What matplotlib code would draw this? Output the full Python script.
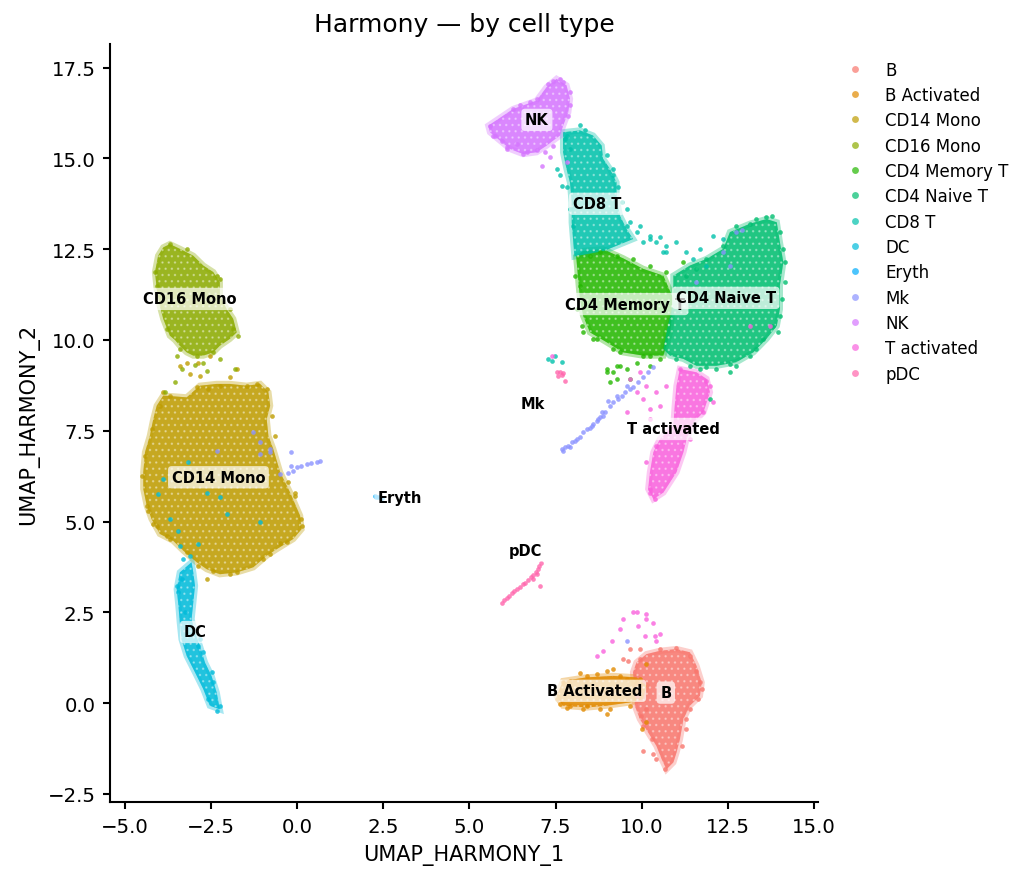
import matplotlib
matplotlib.use("Agg")
import matplotlib.pyplot as plt
from matplotlib.lines import Line2D

# ---------------- data ----------------
cell_types = ["B", "B Activated", "CD14 Mono", "CD16 Mono", "CD4 Memory T",
              "CD4 Naive T", "CD8 T", "DC", "Eryth", "Mk", "NK", "T activated", "pDC"]
palette = ["#F8766D", "#E18A00", "#BE9C00", "#8CAB00", "#24B700", "#00BE70",
           "#00C1AB", "#00BBDA", "#00ACFC", "#8B93FF", "#D575FE", "#F962DD", "#FF65AC"]

# outlines of the dense cores of each cluster
B_hull_x = [9.85, 10.14, 10.53, 11.01, 11.40, 11.59, 11.74, 11.69, 11.40, 11.21, 11.11, 11.01, 10.92, 10.72, 10.58, 10.43, 10.19, 9.95, 9.80, 9.80, 9.75]
B_hull_y = [1.12, 1.35, 1.44, 1.49, 1.40, 1.03, 0.57, 0.20, -0.07, -0.44, -0.99, -1.36, -1.63, -1.82, -1.54, -1.18, -0.81, -0.44, -0.07, 0.39, 0.85]
BAct_hull_x = [7.53, 7.72, 8.40, 9.17, 9.85, 10.14, 10.04, 9.66, 8.98, 8.40, 7.72]
BAct_hull_y = [0.20, 0.61, 0.71, 0.75, 0.71, 0.48, 0.11, 0.02, -0.07, -0.12, -0.07]
CD14_hull_x = [-4.07, -3.88, -3.20, -2.82, -2.33, -1.95, -1.46, -1.07, -0.83, -0.78, -0.88, -0.83, -0.69, -0.49, -0.20, 0.09, 0.13, -0.11, -0.59, -0.88, -1.27, -1.75, -2.24, -2.62, -2.91, -3.30, -3.59, -3.98, -4.22, -4.36, -4.46, -4.46, -4.41, -4.27, -4.17]
CD14_hull_y = [8.19, 8.47, 8.42, 8.74, 8.79, 8.79, 8.74, 8.79, 8.56, 8.19, 7.82, 7.36, 7.00, 6.36, 5.80, 5.16, 4.79, 4.52, 4.24, 4.06, 3.74, 3.60, 3.55, 3.69, 3.88, 4.20, 4.47, 4.66, 5.07, 5.44, 5.90, 6.36, 6.91, 7.36, 7.82]
CD16_hull_x = [-3.88, -3.69, -3.40, -3.01, -2.72, -2.43, -2.24, -2.24, -2.04, -1.85, -1.75, -1.95, -2.24, -2.43, -2.72, -3.01, -3.20, -3.40, -3.54, -3.69, -3.88, -3.98, -4.07, -4.12, -4.03]
CD16_hull_y = [12.55, 12.64, 12.51, 12.32, 12.05, 11.87, 11.59, 11.22, 10.85, 10.58, 10.21, 10.03, 9.84, 9.66, 9.57, 9.57, 9.66, 9.84, 10.00, 10.12, 10.58, 10.94, 11.40, 11.87, 12.32]
CD4M_hull_x = [8.10, 8.30, 8.88, 9.46, 10.04, 10.63, 10.92, 10.82, 10.63, 10.04, 9.46, 8.98, 8.50, 8.30, 8.21]
CD4M_hull_y = [12.30, 12.45, 12.50, 12.25, 11.96, 11.77, 11.13, 10.21, 9.57, 9.57, 9.66, 9.94, 10.21, 10.67, 11.13]
CD4N_hull_x = [10.92, 11.40, 11.88, 12.37, 12.56, 13.14, 13.62, 13.92, 14.01, 14.11, 14.01, 14.01, 13.92, 13.62, 13.24, 12.75, 12.17, 11.59, 11.21, 10.82, 10.63, 10.72, 10.87, 10.92]
CD4N_hull_y = [11.77, 12.05, 12.23, 12.51, 12.97, 13.20, 13.33, 13.24, 12.69, 12.14, 11.50, 10.85, 10.39, 10.03, 9.66, 9.39, 9.29, 9.29, 9.48, 9.57, 9.75, 10.21, 10.85, 11.31]
CD8_hull_x = [7.72, 8.21, 8.59, 8.84, 8.88, 9.08, 9.27, 9.27, 9.37, 9.56, 9.75, 8.90, 8.05, 7.97, 7.97, 7.92, 7.82, 7.72]
CD8_hull_y = [15.72, 15.77, 15.63, 15.35, 14.99, 14.71, 14.34, 13.88, 13.42, 13.06, 12.78, 12.45, 12.30, 13.24, 13.79, 14.34, 14.71, 15.17]
DC_hull_x = [-3.40, -3.49, -3.44, -3.40, -3.35, -3.20, -2.96, -2.72, -2.53, -2.24, -2.33, -2.48, -2.67, -2.82, -2.96, -3.06, -3.01, -2.96, -3.01, -3.06]
DC_hull_y = [3.60, 3.14, 2.68, 2.22, 1.76, 1.30, 0.85, 0.39, -0.07, -0.17, 0.29, 0.75, 1.12, 1.58, 1.95, 2.31, 2.77, 3.23, 3.60, 3.88]
NK_hull_x = [5.55, 6.27, 6.95, 7.24, 7.53, 7.82, 7.92, 7.87, 7.72, 7.63, 7.43, 7.24, 6.95, 6.56, 6.18, 5.89, 5.60]
NK_hull_y = [15.90, 16.36, 16.59, 16.96, 17.19, 17.01, 16.64, 16.27, 15.90, 15.63, 15.49, 15.35, 15.17, 15.12, 15.26, 15.49, 15.72]
TAct_hull_x = [11.11, 11.59, 11.88, 11.98, 11.79, 11.50, 11.30, 11.21, 11.01, 10.63, 10.34, 10.19, 10.24, 10.34, 10.53, 10.92, 10.96, 11.01]
TAct_hull_y = [9.20, 9.11, 8.93, 8.56, 8.01, 7.73, 7.27, 6.91, 6.36, 5.80, 5.62, 5.90, 6.36, 6.91, 7.27, 7.64, 8.19, 8.74]

# individual cells outside / at the edge of the dense cores
B_x = [9.66, 9.47, 9.61, 9.95, 11.01, 11.40, 11.69, 11.74, 10.05, 10.34, 10.43, 10.67, 10.14, 9.98, 11.40, 11.30,
       9.95, 10.53, 11.59, 11.64, 11.30, 11.16, 10.29, 10.05, 9.85]
B_y = [1.49, 1.21, 1.17, 1.49, 1.53, 1.30, 0.57, 0.39, -1.31, -1.41, -1.54, -1.82, -0.17, -0.35, -0.17, -0.44,
       1.21, 1.49, 0.89, 0.11, -0.72, -1.18, -1.00, -0.63, 0.20]
BAct_x = [8.21, 8.40, 8.69, 8.98, 9.18, 9.37, 7.92, 7.72, 8.79, 8.98, 9.08, 8.40, 7.92, 7.63, 10.14, 10.00, 9.56, 9.80, 10.14,
          7.53, 7.82, 8.31, 9.66, 9.95]
BAct_y = [0.84, 0.75, 0.80, 0.89, 0.94, 0.75, 0.62, 0.57, -0.17, -0.30, -0.17, -0.07, -0.07, -0.03, -0.53, -0.72, 0.66, 0.62, 1.07,
          0.11, -0.12, -0.17, -0.07, 0.66]
CD14_x = [-3.88, -3.69, -3.11, -2.82, -2.57, -2.24, -1.95, -1.75, -3.40, -3.20, -2.86, -2.52, -1.17, -4.51, -4.31, -4.07, -3.69, -0.78, -0.06, 0.14, -2.62, -2.86, -0.49, -1.94,
          -4.41, -4.22, -3.98, -2.91, -1.46, -0.88, -0.74, -0.64, -4.36, -4.17, -3.78, -3.20, -2.43, -1.75, -0.98, -0.30, 0.13, -0.06, -0.25]
CD14_y = [8.56, 8.47, 9.06, 9.02, 8.65, 8.74, 8.97, 9.20, 9.29, 9.38, 9.38, 9.57, 8.79, 6.26, 5.30, 4.89, 4.52, 4.10, 5.80, 4.89, 3.42, 3.78, 4.42, 3.55,
          6.81, 7.55, 8.19, 8.70, 8.74, 8.65, 7.92, 7.37, 5.44, 4.93, 4.61, 4.15, 3.65, 3.62, 3.97, 4.43, 5.07, 5.71, 6.08]
CD16_x = [-4.12, -3.69, -3.20, -2.23, -1.70, -3.49, -3.35, -3.54, -2.72, -2.23, -1.80, -3.83, -2.95, -2.60,
          -2.33, -1.94, -1.85, -4.07, -3.78, -3.40, -2.91, -2.43]
CD16_y = [11.86, 12.64, 12.51, 11.68, 10.12, 9.57, 9.20, 8.83, 9.38, 9.48, 9.20, 8.56, 9.30, 9.15,
          11.77, 10.85, 10.30, 11.50, 10.30, 9.75, 9.57, 9.66]
CD4M_x = [9.27, 9.56, 8.98, 9.85, 9.66, 10.05, 10.53, 10.24, 8.79, 9.27, 9.76, 10.24, 10.72, 8.06, 8.11, 8.30, 8.59, 9.18, 11.21, 8.98, 9.18, 9.27, 9.08, 9.37,
          8.21, 8.26, 8.69, 9.37, 10.24, 8.50]
CD4M_y = [9.29, 9.20, 9.11, 9.38, 8.93, 9.57, 9.48, 9.29, 12.41, 12.32, 12.23, 12.05, 11.86, 11.77, 10.85, 10.21, 10.03, 9.75, 12.14, 9.20, 9.11, 8.93, 8.83, 9.29,
          11.50, 10.39, 10.03, 9.66, 9.57, 12.32]
CD4N_x = [13.14, 13.62, 14.01, 14.16, 14.16, 14.01, 13.82, 13.53, 13.14, 12.75, 12.56, 12.17, 11.69, 11.40, 12.75, 12.37, 11.88, 11.59, 11.30, 11.98,
          14.11, 14.06, 13.96, 13.33, 12.56, 11.88, 11.01, 12.75, 13.33, 13.77]
CD4N_y = [13.20, 13.38, 12.97, 12.14, 11.59, 10.67, 10.39, 10.03, 9.57, 9.29, 9.11, 9.20, 9.20, 9.29, 12.97, 12.60, 12.23, 11.96, 11.77, 8.37,
          12.51, 11.13, 10.21, 9.75, 9.34, 9.25, 9.48, 13.15, 13.33, 13.42]
CD8_x = [8.21, 8.35, 7.53, 7.63, 7.68, 7.82, 9.18, 9.32, 9.95, 10.24, 10.43, 10.63, 10.72, 10.05, 7.82, 7.92, 9.56, 9.66,
         10.24, 10.53, 11.01, 11.30, 11.69, 12.08, 12.37, 11.88, 11.50, 10.72, 9.85, 9.56, 7.29, 7.39, 7.48, 7.70,
         7.77, 8.98, 9.18, 9.42, 7.92, 8.02]
CD8_y = [15.91, 15.77, 14.71, 14.53, 14.25, 14.21, 14.53, 14.21, 13.15, 12.87, 12.69, 12.42, 12.60, 12.69, 15.63, 15.26, 13.61, 13.24,
         12.78, 12.83, 12.69, 12.41, 12.51, 12.87, 12.78, 12.05, 12.23, 12.41, 12.97, 13.15, 9.48, 9.43, 9.55, 9.40,
         15.54, 15.08, 14.71, 13.79, 13.61, 13.15]
DC_x = [-3.30, -3.11, -3.49, -2.86, -2.72, -2.43, -2.33, -2.57, -3.44, -3.88, -4.02, -3.69, -3.44, -3.15, -2.62, -2.23, -2.04, -1.07, -3.40, -2.86,
        -3.35, -3.25, -2.81, -2.48, -2.23]
DC_y = [3.97, 4.06, 3.23, 1.58, 1.40, 0.57, -0.21, 0.11, 3.05, 6.17, 5.76, 5.07, 4.75, 6.63, 5.80, 5.67, 5.21, 4.98, 4.33, 4.38,
        3.41, 2.50, 1.76, 0.85, -0.07]
Eryth_x = [2.25, 2.30, 2.35, 2.42, 2.48]
Eryth_y = [5.70, 5.69, 5.68, 5.67, 5.66]
Mk_x = [7.68, 7.77, 7.87, 7.97, 8.06, 8.21, 8.31, 8.40, 8.50, 8.60, 8.69, 8.79, 8.89, 8.93, 9.08, 9.18, 9.32, 9.42, 9.51, 9.66,
        9.76, 9.90, 10.05, 10.19, 10.34, 9.03, 9.27, 9.56, 8.84, 8.74, 7.92, 7.72, 8.11, 8.55,
        -0.25, -0.11, -0.01, 0.13, 0.28, 0.42, 0.57, 0.67, -0.16, -0.49, -0.78, -1.07, -1.27, -1.07, -0.78, -0.16, -2.33,
        12.75, 12.90, 12.56, 12.37, 11.59, 9.56]
Mk_y = [7.00, 7.04, 7.09, 7.18, 7.23, 7.32, 7.46, 7.55, 7.59, 7.69, 7.78, 7.87, 7.92, 8.01, 8.19, 8.28, 8.37, 8.47, 8.56, 8.65,
        8.70, 8.83, 8.97, 9.11, 9.25, 8.33, 8.47, 8.74, 8.01, 7.82, 7.04, 6.95, 7.27, 7.64,
        6.35, 6.40, 6.49, 6.54, 6.58, 6.61, 6.65, 6.67, 6.54, 6.31, 6.91, 6.86, 7.46, 7.18, 6.99, 6.91, 6.95,
        12.97, 13.02, 12.05, 12.41, 11.60, 1.72]
NK_x = [7.10, 7.34, 7.19, 7.82, 6.95, 6.66, 6.08, 6.37, 7.44, 7.29, 7.44, 7.73, 5.60, 5.74, 5.94, 7.92, 7.87, 6.28, 6.76,
        5.69, 6.08, 6.57, 7.63, 7.92, 6.95, 6.47]
NK_y = [14.80, 15.03, 15.17, 14.89, 15.22, 15.17, 15.31, 15.40, 15.35, 17.05, 17.14, 17.10, 15.90, 15.63, 15.49, 16.46, 16.18, 16.36, 16.55,
        15.63, 15.26, 15.12, 17.19, 16.82, 16.64, 16.46]
TAct_x = [9.85, 10.05, 10.24, 10.43, 10.53, 10.14, 9.95, 9.66, 10.72, 9.56, 10.24, 11.98, 12.08, 11.79, 10.24, 10.38, 10.14, 10.43,
          13.14, 13.72, 9.76, 10.14, 9.47, 9.90, 10.34, 9.37, 10.09, 10.38, 10.53, 10.43, 9.13, 8.89, 8.69, 9.85, 10.14, 7.40,
          11.11, 11.88, 10.24, 11.40]
TAct_y = [8.56, 8.37, 8.10, 8.56, 8.19, 8.74, 9.11, 8.93, 8.74, 8.01, 7.82, 8.74, 8.28, 8.01, 5.80, 5.62, 6.63, 7.09,
          10.39, 10.39, 2.50, 2.45, 2.31, 2.13, 2.22, 2.04, 1.85, 1.85, 1.90, 1.72, 1.72, 1.44, 1.30, 2.50, 2.31, 9.55,
          9.20, 8.88, 5.89, 7.27]
pDC_x = [5.94, 6.00, 6.08, 6.16, 6.24, 6.31, 6.39, 6.47, 6.55, 6.62, 6.70, 6.78, 6.85, 6.93, 7.00, 7.03, 7.07, 7.05, 6.95, 6.84,
         7.53, 7.63, 7.72, 7.58, 7.68, 7.77]
pDC_y = [2.77, 2.85, 2.90, 2.96, 3.03, 3.09, 3.14, 3.21, 3.27, 3.32, 3.40, 3.46, 3.53, 3.60, 3.69, 3.78, 3.86, 3.23, 3.55, 3.43,
         9.11, 9.13, 9.09, 9.02, 9.04, 8.88]

# label positions
label_x = [10.70, 8.64, -2.28, -3.11, 9.51, 12.44, 8.70, -2.96, 2.99, 6.84, 6.96, 10.92, 6.63]
label_y = [0.29, 0.34, 6.22, 11.13, 10.99, 11.16, 13.75, 1.96, 5.67, 8.24, 16.06, 7.55, 4.21]

hulls = {
    "B": (B_hull_x, B_hull_y), "B Activated": (BAct_hull_x, BAct_hull_y),
    "CD14 Mono": (CD14_hull_x, CD14_hull_y), "CD16 Mono": (CD16_hull_x, CD16_hull_y),
    "CD4 Memory T": (CD4M_hull_x, CD4M_hull_y), "CD4 Naive T": (CD4N_hull_x, CD4N_hull_y),
    "CD8 T": (CD8_hull_x, CD8_hull_y), "DC": (DC_hull_x, DC_hull_y),
    "NK": (NK_hull_x, NK_hull_y), "T activated": (TAct_hull_x, TAct_hull_y),
}
points = {
    "B": (B_x, B_y), "B Activated": (BAct_x, BAct_y), "CD14 Mono": (CD14_x, CD14_y),
    "CD16 Mono": (CD16_x, CD16_y), "CD4 Memory T": (CD4M_x, CD4M_y), "CD4 Naive T": (CD4N_x, CD4N_y),
    "CD8 T": (CD8_x, CD8_y), "DC": (DC_x, DC_y), "Eryth": (Eryth_x, Eryth_y), "Mk": (Mk_x, Mk_y),
    "NK": (NK_x, NK_y), "T activated": (TAct_x, TAct_y), "pDC": (pDC_x, pDC_y),
}

# ---------------- plot ----------------
plt.rcParams["font.family"] = ["DejaVu Sans"]
plt.rcParams["hatch.linewidth"] = 0.6
fig = plt.figure(figsize=(6.88, 5.8933), dpi=150)
ax = fig.add_axes([110 / 1032, 1 - 803.3 / 884, 708 / 1032, 758.3 / 884])

for name, col in zip(cell_types, palette):
    if name in hulls:
        hx, hy = hulls[name]
        ax.fill(hx, hy, color=col, alpha=0.35, lw=3.0, ec=col, zorder=1)
        ax.fill(hx, hy, fc=col, alpha=0.8, lw=0, ec="none", zorder=1.1)
        ax.fill(hx, hy, fc="none", ec=(1, 1, 1, 0.35), lw=0, hatch="....", zorder=1.2)
for name, col in zip(cell_types, palette):
    px, py = points[name]
    ax.scatter(px, py, s=5, color=col, alpha=0.8, lw=0, zorder=2)

for name, lx, ly in zip(cell_types, label_x, label_y):
    ax.text(lx, ly, name, fontsize=7, fontweight="bold", ha="center", va="center", zorder=5,
            bbox=dict(boxstyle="round,pad=0.25", fc="white", ec="none", alpha=0.7))

ax.set_xlim(-5.426, 15.116)
ax.set_ylim(-2.73, 18.15)
ax.set_xticks([-5.0, -2.5, 0.0, 2.5, 5.0, 7.5, 10.0, 12.5, 15.0])
ax.set_yticks([-2.5, 0.0, 2.5, 5.0, 7.5, 10.0, 12.5, 15.0, 17.5])
ax.tick_params(labelsize=9.5, width=1.0, length=3.5)
for s in ["top", "right"]:
    ax.spines[s].set_visible(False)
for s in ["left", "bottom"]:
    ax.spines[s].set_linewidth(1.0)
ax.set_xlabel("UMAP_HARMONY_1", fontsize=10)
ax.set_ylabel("UMAP_HARMONY_2", fontsize=10)
ax.set_title("Harmony \u2014 by cell type", fontsize=12)

handles = [Line2D([], [], marker="o", ls="", color=c, alpha=0.7, markersize=3.3, mew=0) for c in palette]
ax.legend(handles, cell_types, loc="upper left", bbox_to_anchor=(1.02, 0.987), frameon=False,
          fontsize=8, labelspacing=0.44, handletextpad=0.8, borderaxespad=0)

fig.savefig("out.png", dpi=150)
